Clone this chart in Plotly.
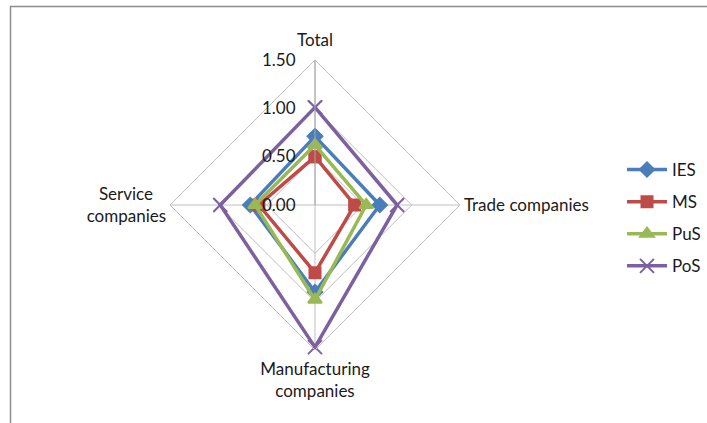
import plotly.graph_objects as go

categories = ["<span style='baseline-shift:7px'>Total</span>", "Trade companies",
              "<span style='baseline-shift:-4px'>Manufacturing</span><br><span style='baseline-shift:-4px'>companies</span>",
              "Service\u00a0\u00a0\u00a0<br>companies"]
series_names = ["IES", "MS", "PuS", "PoS"]
ies = [0.71, 0.67, 0.90, 0.67]
ms = [0.50, 0.41, 0.70, 0.58]
pus = [0.62, 0.53, 0.98, 0.62]
pos = [1.01, 0.85, 1.47, 0.98]
radial_ticks = [0, 0.5, 1.0, 1.5]
radial_labels = ["0.00", "0.50", "1.00", "1.50"]

values = [ies, ms, pus, pos]
colors = ["#4A7EBB", "#BE4B48", "#98B954", "#7D60A0"]
symbols = ["diamond", "square", "triangle-up", "x-thin"]
msizes = [11, 11, 12, 14]

fig = go.Figure()
for name, vals, c, s, ms_ in zip(series_names, values, colors, symbols, msizes):
    fig.add_trace(go.Scatterpolar(
        r=vals + [vals[0]],
        theta=categories + [categories[0]],
        name=name,
        legendgroup=name,
        mode="lines+markers",
        line=dict(color=c, width=3.5),
        marker=dict(symbol=s, size=ms_, color=c, line=dict(color=c, width=2)),
    ))

W, H = 707, 423
cx, cy, R = 315, 205, 145
pad = "\u00a0\u00a0\u00a0"
fig.update_layout(
    width=W, height=H,
    margin=dict(l=0, r=0, t=0, b=0),
    paper_bgcolor="white",
    font=dict(family="Lato, Liberation Sans, sans-serif", size=17, color="#1a1a1a"),
    polar=dict(
        domain=dict(x=[(cx - R) / W, (cx + R) / W], y=[(H - cy - R) / H, (H - cy + R) / H]),
        gridshape="linear",
        bgcolor="white",
        radialaxis=dict(
            range=[0, 1.5], tickvals=radial_ticks,
            ticktext=[t + pad for t in radial_labels],
            angle=90, tickangle=90, side="counterclockwise",
            showline=True, linecolor="#A6A6A6", linewidth=1,
            gridcolor="#BFBFBF", gridwidth=1, ticks="",
            tickfont=dict(size=17, color="#1a1a1a"),
        ),
        angularaxis=dict(
            rotation=90, direction="clockwise",
            showline=True, linecolor="#BFBFBF", linewidth=1,
            gridcolor="#BFBFBF", gridwidth=1, ticks="",
            tickfont=dict(size=17, color="#1a1a1a"),
        ),
    ),
    legend=dict(
        x=622 / W, y=(H - 152) / H, xanchor="left", yanchor="top",
        tracegroupgap=7, itemwidth=40, font=dict(size=17, color="#1a1a1a"),
        bgcolor="rgba(0,0,0,0)",
    ),
    shapes=[dict(type="rect", xref="paper", yref="paper",
                 x0=10.5 / W, x1=1.05, y0=-0.05, y1=(H - 6.5) / H,
                 line=dict(color="#8C8C8C", width=1.5))],
)

fig.write_html("out.html")
